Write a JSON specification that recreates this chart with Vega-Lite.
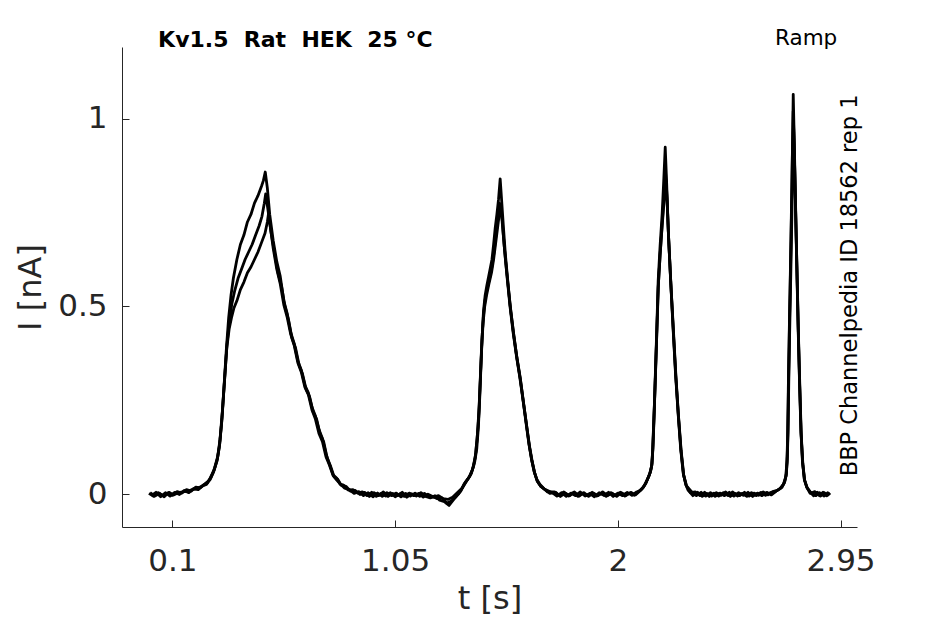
{
  "$schema": "https://vega.github.io/schema/vega-lite/v6.json",
  "width": 735,
  "height": 480,
  "autosize": {"type": "none"},
  "padding": {"left": 122, "top": 47, "right": 88, "bottom": 97},
  "config": {
    "view": {"stroke": null},
    "font": "DejaVu Sans",
    "axis": {
      "grid": false,
      "domainColor": "#262626",
      "tickColor": "#262626",
      "tickSize": -7,
      "labelFont": "DejaVu Sans",
      "labelFontSize": 31,
      "labelColor": "#262626",
      "titleFont": "DejaVu Sans",
      "titleFontSize": 32,
      "titleFontWeight": "normal",
      "titleColor": "#262626"
    }
  },
  "layer": [
    {
      "data": {
        "format": {"type": "csv"},
        "values": "t,I,rep\n0,0.002,1\n0.02,-0.006,1\n0.04,0.004,1\n0.06,-0.004,1\n0.08,0.003,1\n0.1,-0.003,1\n0.12,0.007,1\n0.14,0.003,1\n0.16,0.012,1\n0.18,0.008,1\n0.2,0.019,1\n0.22,0.017,1\n0.24,0.028,1\n0.26,0.038,1\n0.275,0.058,1\n0.29,0.088,1\n0.30,0.125,1\n0.31,0.19,1\n0.32,0.285,1\n0.33,0.385,1\n0.34,0.47,1\n0.35,0.53,1\n0.36,0.575,1\n0.375,0.625,1\n0.39,0.665,1\n0.405,0.69,1\n0.42,0.725,1\n0.435,0.745,1\n0.45,0.775,1\n0.465,0.795,1\n0.48,0.82,1\n0.488,0.835,1\n0.496,0.858,1\n0.505,0.815,1\n0.515,0.745,1\n0.53,0.675,1\n0.545,0.62,1\n0.56,0.58,1\n0.575,0.515,1\n0.59,0.48,1\n0.605,0.43,1\n0.62,0.4,1\n0.635,0.355,1\n0.65,0.33,1\n0.665,0.29,1\n0.68,0.27,1\n0.695,0.232,1\n0.71,0.208,1\n0.725,0.172,1\n0.74,0.148,1\n0.755,0.108,1\n0.77,0.08,1\n0.785,0.052,1\n0.8,0.043,1\n0.815,0.027,1\n0.83,0.024,1\n0.85,0.011,1\n0.87,0.012,1\n0.89,0.003,1\n0.91,0.006,1\n0.93,-0.004,1\n0.95,0.005,1\n0.97,-0.006,1\n0.99,0.002,1\n1.01,-0.005,1\n1.03,0.004,1\n1.05,-0.007,1\n1.07,0.001,1\n1.09,-0.006,1\n1.11,0.003,1\n1.13,-0.004,1\n1.15,0.002,1\n1.17,-0.008,1\n1.19,0.0,1\n1.21,-0.006,1\n1.23,-0.012,1\n1.25,-0.01,1\n1.27,-0.024,1\n1.29,-0.018,1\n1.31,-0.006,1\n1.33,0.008,1\n1.345,0.028,1\n1.36,0.04,1\n1.375,0.055,1\n1.39,0.088,1\n1.398,0.12,1\n1.405,0.178,1\n1.411,0.26,1\n1.417,0.356,1\n1.422,0.43,1\n1.427,0.489,1\n1.434,0.53,1\n1.441,0.555,1\n1.452,0.59,1\n1.463,0.625,1\n1.47,0.665,1\n1.477,0.71,1\n1.484,0.745,1\n1.491,0.785,1\n1.498,0.84,1\n1.505,0.775,1\n1.512,0.71,1\n1.52,0.64,1\n1.529,0.578,1\n1.54,0.505,1\n1.555,0.428,1\n1.568,0.37,1\n1.583,0.312,1\n1.597,0.245,1\n1.612,0.178,1\n1.622,0.13,1\n1.633,0.09,1\n1.644,0.058,1\n1.655,0.036,1\n1.67,0.022,1\n1.685,0.014,1\n1.70,0.01,1\n1.72,0.004,1\n1.74,-0.005,1\n1.76,0.004,1\n1.78,-0.006,1\n1.80,0.003,1\n1.82,-0.004,1\n1.84,0.006,1\n1.86,-0.005,1\n1.88,0.002,1\n1.90,-0.007,1\n1.92,0.004,1\n1.94,-0.003,1\n1.96,0.005,1\n1.98,-0.006,1\n2.00,0.003,1\n2.02,-0.004,1\n2.04,0.005,1\n2.06,-0.003,1\n2.08,0.006,1\n2.095,0.01,1\n2.108,0.018,1\n2.12,0.03,1\n2.13,0.045,1\n2.14,0.062,1\n2.146,0.081,1\n2.15,0.13,1\n2.153,0.18,1\n2.156,0.24,1\n2.159,0.302,1\n2.166,0.44,1\n2.172,0.569,1\n2.18,0.66,1\n2.189,0.747,1\n2.196,0.84,1\n2.202,0.924,1\n2.208,0.83,1\n2.215,0.702,1\n2.225,0.57,1\n2.236,0.436,1\n2.246,0.32,1\n2.257,0.215,1\n2.268,0.12,1\n2.279,0.055,1\n2.29,0.025,1\n2.30,0.01,1\n2.32,-0.004,1\n2.34,0.005,1\n2.36,-0.006,1\n2.38,0.002,1\n2.40,-0.005,1\n2.42,0.004,1\n2.44,-0.003,1\n2.46,0.006,1\n2.48,-0.006,1\n2.50,0.002,1\n2.52,-0.004,1\n2.54,0.005,1\n2.56,-0.005,1\n2.58,0.003,1\n2.60,-0.003,1\n2.62,0.006,1\n2.64,-0.002,1\n2.66,0.007,1\n2.68,0.01,1\n2.695,0.016,1\n2.71,0.03,1\n2.718,0.05,1\n2.722,0.09,1\n2.725,0.16,1\n2.728,0.3,1\n2.732,0.45,1\n2.737,0.62,1\n2.742,0.8,1\n2.746,0.97,1\n2.748,1.065,1\n2.752,0.95,1\n2.757,0.8,1\n2.763,0.62,1\n2.769,0.45,1\n2.775,0.3,1\n2.781,0.17,1\n2.787,0.09,1\n2.795,0.04,1\n2.805,0.02,1\n2.82,0.006,1\n2.835,-0.004,1\n2.85,0.005,1\n2.865,-0.005,1\n2.88,0.004,1\n2.895,-0.003,1\n2.905,0.003,1\n0.01,-0.004,2\n0.03,0.005,2\n0.05,-0.007,2\n0.07,0.004,2\n0.09,-0.005,2\n0.11,0.005,2\n0.13,-0.001,2\n0.15,0.01,2\n0.17,0.004,2\n0.19,0.015,2\n0.21,0.012,2\n0.23,0.024,2\n0.25,0.03,2\n0.265,0.045,2\n0.28,0.07,2\n0.293,0.1,2\n0.303,0.145,2\n0.313,0.22,2\n0.323,0.31,2\n0.333,0.4,2\n0.343,0.46,2\n0.353,0.505,2\n0.365,0.54,2\n0.38,0.575,2\n0.395,0.6,2\n0.41,0.625,2\n0.425,0.645,2\n0.44,0.665,2\n0.455,0.69,2\n0.47,0.715,2\n0.482,0.74,2\n0.492,0.775,2\n0.498,0.8,2\n0.507,0.76,2\n0.52,0.7,2\n0.535,0.645,2\n0.55,0.59,2\n0.565,0.555,2\n0.58,0.5,2\n0.595,0.465,2\n0.61,0.415,2\n0.625,0.39,2\n0.64,0.345,2\n0.655,0.32,2\n0.67,0.28,2\n0.685,0.26,2\n0.70,0.22,2\n0.715,0.2,2\n0.73,0.16,2\n0.745,0.14,2\n0.76,0.096,2\n0.775,0.074,2\n0.79,0.046,2\n0.805,0.04,2\n0.82,0.024,2\n0.84,0.021,2\n0.86,0.008,2\n0.88,0.01,2\n0.90,-0.001,2\n0.92,0.005,2\n0.94,-0.006,2\n0.96,0.004,2\n0.98,-0.004,2\n1.0,0.006,2\n1.02,-0.006,2\n1.04,0.002,2\n1.06,-0.004,2\n1.08,0.005,2\n1.10,-0.008,2\n1.12,0.001,2\n1.14,-0.005,2\n1.16,0.004,2\n1.18,-0.006,2\n1.20,-0.01,2\n1.22,-0.004,2\n1.24,-0.016,2\n1.26,-0.02,2\n1.28,-0.03,2\n1.30,-0.014,2\n1.32,0.0,2\n1.34,0.02,2\n1.355,0.035,2\n1.37,0.05,2\n1.385,0.075,2\n1.394,0.11,2\n1.401,0.16,2\n1.408,0.23,2\n1.414,0.32,2\n1.42,0.41,2\n1.426,0.47,2\n1.433,0.515,2\n1.442,0.545,2\n1.453,0.575,2\n1.464,0.61,2\n1.472,0.645,2\n1.48,0.69,2\n1.488,0.73,2\n1.495,0.775,2\n1.502,0.76,2\n1.51,0.7,2\n1.519,0.635,2\n1.528,0.575,2\n1.54,0.5,2\n1.553,0.432,2\n1.567,0.37,2\n1.582,0.31,2\n1.596,0.248,2\n1.61,0.182,2\n1.621,0.132,2\n1.632,0.092,2\n1.643,0.06,2\n1.654,0.04,2\n1.668,0.026,2\n1.683,0.016,2\n1.70,0.006,2\n1.73,0.006,2\n1.75,-0.004,2\n1.77,0.006,2\n1.79,-0.005,2\n1.81,0.004,2\n1.83,-0.006,2\n1.85,0.003,2\n1.87,-0.004,2\n1.89,0.005,2\n1.91,-0.005,2\n1.93,0.002,2\n1.95,-0.006,2\n1.97,0.004,2\n1.99,-0.004,2\n2.01,0.005,2\n2.03,-0.005,2\n2.05,0.003,2\n2.07,-0.003,2\n2.09,0.008,2\n2.105,0.016,2\n2.118,0.028,2\n2.128,0.042,2\n2.138,0.058,2\n2.145,0.078,2\n2.149,0.12,2\n2.152,0.17,2\n2.156,0.235,2\n2.16,0.31,2\n2.167,0.445,2\n2.173,0.56,2\n2.181,0.645,2\n2.19,0.73,2\n2.197,0.8,2\n2.203,0.86,2\n2.209,0.8,2\n2.216,0.69,2\n2.226,0.56,2\n2.237,0.43,2\n2.247,0.315,2\n2.258,0.21,2\n2.269,0.118,2\n2.28,0.052,2\n2.291,0.024,2\n2.31,0.004,2\n2.33,0.006,2\n2.35,-0.004,2\n2.37,0.005,2\n2.39,-0.006,2\n2.41,0.003,2\n2.43,-0.005,2\n2.45,0.004,2\n2.47,-0.004,2\n2.49,0.006,2\n2.51,-0.005,2\n2.53,0.002,2\n2.55,-0.006,2\n2.57,0.004,2\n2.59,-0.004,2\n2.61,0.005,2\n2.63,-0.003,2\n2.65,0.004,2\n2.67,0.006,2\n2.69,0.014,2\n2.706,0.026,2\n2.716,0.046,2\n2.721,0.085,2\n2.724,0.15,2\n2.727,0.28,2\n2.731,0.43,2\n2.736,0.6,2\n2.741,0.78,2\n2.745,0.93,2\n2.748,1.02,2\n2.752,0.93,2\n2.757,0.79,2\n2.763,0.61,2\n2.769,0.44,2\n2.775,0.295,2\n2.781,0.165,2\n2.788,0.085,2\n2.796,0.038,2\n2.806,0.018,2\n2.82,0.002,2\n2.84,0.007,2\n2.86,-0.004,2\n2.875,0.005,2\n2.89,-0.004,2\n2.9,0.004,2\n0.005,0.004,3\n0.025,-0.005,3\n0.045,0.002,3\n0.065,-0.007,3\n0.085,0.005,3\n0.105,-0.002,3\n0.125,0.004,3\n0.145,0.006,3\n0.165,0.008,3\n0.185,0.012,3\n0.205,0.015,3\n0.225,0.021,3\n0.245,0.026,3\n0.26,0.042,3\n0.278,0.064,3\n0.292,0.094,3\n0.302,0.135,3\n0.312,0.205,3\n0.322,0.3,3\n0.332,0.39,3\n0.342,0.44,3\n0.352,0.47,3\n0.362,0.495,3\n0.375,0.515,3\n0.39,0.545,3\n0.405,0.565,3\n0.42,0.59,3\n0.435,0.605,3\n0.45,0.625,3\n0.465,0.645,3\n0.48,0.67,3\n0.495,0.695,3\n0.505,0.725,3\n0.51,0.748,3\n0.518,0.71,3\n0.53,0.655,3\n0.545,0.6,3\n0.56,0.56,3\n0.575,0.505,3\n0.59,0.47,3\n0.605,0.425,3\n0.62,0.395,3\n0.635,0.35,3\n0.65,0.325,3\n0.665,0.285,3\n0.68,0.265,3\n0.695,0.225,3\n0.71,0.2,3\n0.725,0.162,3\n0.74,0.14,3\n0.755,0.1,3\n0.77,0.077,3\n0.785,0.05,3\n0.80,0.038,3\n0.815,0.028,3\n0.835,0.016,3\n0.855,0.012,3\n0.875,0.002,3\n0.895,0.007,3\n0.915,-0.004,3\n0.935,0.004,3\n0.955,-0.007,3\n0.975,0.003,3\n0.995,-0.006,3\n1.015,0.004,3\n1.035,-0.004,3\n1.055,0.003,3\n1.075,-0.007,3\n1.095,0.002,3\n1.115,-0.005,3\n1.135,0.003,3\n1.155,-0.006,3\n1.175,0.002,3\n1.195,-0.007,3\n1.215,-0.008,3\n1.235,-0.004,3\n1.255,-0.012,3\n1.275,-0.014,3\n1.295,-0.008,3\n1.315,0.004,3\n1.335,0.016,3\n1.35,0.032,3\n1.365,0.045,3\n1.38,0.065,3\n1.392,0.1,3\n1.4,0.15,3\n1.407,0.21,3\n1.413,0.3,3\n1.419,0.39,3\n1.425,0.455,3\n1.432,0.5,3\n1.44,0.53,3\n1.45,0.56,3\n1.461,0.59,3\n1.47,0.625,3\n1.478,0.665,3\n1.486,0.705,3\n1.493,0.74,3\n1.5,0.76,3\n1.507,0.73,3\n1.514,0.67,3\n1.523,0.61,3\n1.532,0.555,3\n1.544,0.485,3\n1.557,0.42,3\n1.57,0.36,3\n1.585,0.302,3\n1.599,0.238,3\n1.613,0.172,3\n1.624,0.125,3\n1.635,0.086,3\n1.646,0.055,3\n1.657,0.034,3\n1.672,0.02,3\n1.69,0.012,3\n1.71,0.002,3\n1.735,0.005,3\n1.755,-0.006,3\n1.775,0.003,3\n1.795,-0.004,3\n1.815,0.006,3\n1.835,-0.005,3\n1.855,0.004,3\n1.875,-0.006,3\n1.895,0.003,3\n1.915,-0.004,3\n1.935,0.006,3\n1.955,-0.004,3\n1.975,0.003,3\n1.995,-0.006,3\n2.015,0.004,3\n2.035,-0.003,3\n2.055,0.005,3\n2.075,-0.002,3\n2.1,0.012,3\n2.112,0.022,3\n2.125,0.038,3\n2.135,0.052,3\n2.143,0.072,3\n2.148,0.11,3\n2.151,0.16,3\n2.155,0.225,3\n2.159,0.295,3\n2.166,0.43,3\n2.172,0.55,3\n2.18,0.635,3\n2.189,0.715,3\n2.197,0.78,3\n2.204,0.84,3\n2.21,0.78,3\n2.217,0.675,3\n2.227,0.55,3\n2.238,0.425,3\n2.248,0.31,3\n2.259,0.205,3\n2.27,0.115,3\n2.281,0.05,3\n2.293,0.022,3\n2.315,0.006,3\n2.335,-0.004,3\n2.355,0.005,3\n2.375,-0.005,3\n2.395,0.004,3\n2.415,-0.006,3\n2.435,0.003,3\n2.455,-0.004,3\n2.475,0.005,3\n2.495,-0.005,3\n2.515,0.004,3\n2.535,-0.003,3\n2.555,0.005,3\n2.575,-0.006,3\n2.595,0.003,3\n2.615,-0.004,3\n2.635,0.005,3\n2.655,-0.002,3\n2.675,0.008,3\n2.7,0.018,3\n2.712,0.034,3\n2.719,0.055,3\n2.723,0.1,3\n2.726,0.17,3\n2.729,0.3,3\n2.733,0.44,3\n2.738,0.6,3\n2.743,0.77,3\n2.747,0.9,3\n2.749,0.99,3\n2.753,0.9,3\n2.758,0.76,3\n2.764,0.6,3\n2.77,0.43,3\n2.776,0.29,3\n2.782,0.16,3\n2.789,0.08,3\n2.797,0.036,3\n2.808,0.016,3\n2.825,0.003,3\n2.845,-0.004,3\n2.86,0.004,3\n2.88,-0.005,3\n2.895,0.004,3\n2.903,-0.002,3"
      },
      "mark": {"type": "line", "color": "#000000", "strokeWidth": 2.8, "strokeJoin": "round"},
      "encoding": {
        "x": {
          "field": "t",
          "type": "quantitative",
          "scale": {"domain": [-0.115, 3.02], "nice": false, "zero": false},
          "axis": {"title": "t [s]", "values": [0.1, 1.05, 2, 2.95], "format": ".3~g", "labelPadding": 26, "titlePadding": 7}
        },
        "y": {
          "field": "I",
          "type": "quantitative",
          "scale": {"domain": [-0.0874, 1.191], "nice": false, "zero": false},
          "axis": {"title": "I [nA]", "values": [0, 0.5, 1], "format": ".3~g", "labelPadding": 22, "titlePadding": 10}
        },
        "detail": {"field": "rep"}
      }
    },
    {
      "data": {"values": [{"t": 0.039, "I": 1.209, "label": "Kv1.5\u00a0 Rat\u00a0 HEK\u00a0 25 °C"}]},
      "mark": {"type": "text", "align": "left", "baseline": "middle", "fontSize": 22, "fontWeight": "bold", "color": "#000000"},
      "encoding": {
        "x": {"field": "t", "type": "quantitative"},
        "y": {"field": "I", "type": "quantitative"},
        "text": {"field": "label"}
      }
    },
    {
      "data": {"values": [{"t": 2.803, "I": 1.213, "label": "Ramp"}]},
      "mark": {"type": "text", "align": "center", "baseline": "middle", "fontSize": 21.5, "color": "#000000"},
      "encoding": {
        "x": {"field": "t", "type": "quantitative"},
        "y": {"field": "I", "type": "quantitative"},
        "text": {"field": "label"}
      }
    },
    {
      "data": {"values": [{"t": 2.991, "I": 0.556, "label": "BBP Channelpedia ID 18562 rep 1"}]},
      "mark": {"type": "text", "align": "center", "baseline": "middle", "angle": 270, "fontSize": 22.5, "color": "#000000"},
      "encoding": {
        "x": {"field": "t", "type": "quantitative"},
        "y": {"field": "I", "type": "quantitative"},
        "text": {"field": "label"}
      }
    }
  ]
}
